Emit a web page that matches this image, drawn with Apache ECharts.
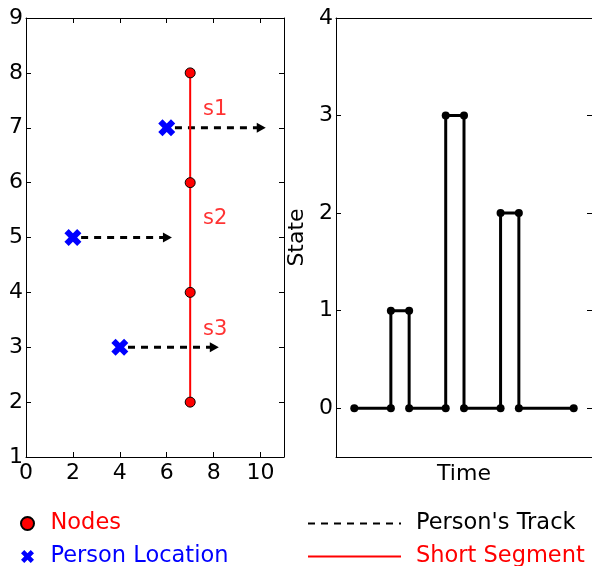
<!DOCTYPE html>
<html>
<head>
<meta charset="utf-8">
<script src="https://cdn.jsdelivr.net/npm/echarts@6/dist/echarts.min.js"></script>
<style>
  html, body { margin: 0; padding: 0; background: #fff; }
  #chart { width: 592px; height: 566px; }
</style>
</head>
<body>
<div id="chart"></div>
<script>
// Left panel: segment nodes along x = 7
const segmentX = 7;
const nodeY = [2, 4, 6, 8];

// Person locations and their tracks (arrows to the right)
const personX = [6, 2, 4];
const personY = [7, 5, 3];
const trackStartX = [6.35, 2.35, 4.35];
const trackEndX = [9.9, 5.9, 7.9];
const arrowHeadX = [10.03, 6.03, 8.03];

// Segment labels
const segLabels = ['s1', 's2', 's3'];
const segLabelX = [7.55, 7.55, 7.55];
const segLabelY = [7.33, 5.35, 3.33];

// Right panel: state over time
const stateTime = [0, 2, 2, 3, 3, 5, 5, 6, 6, 8, 8, 9, 9, 12];
const stateValue = [0, 0, 1, 1, 0, 0, 3, 3, 0, 0, 2, 2, 0, 0];

const FONT = 'DejaVu Sans';
const RED = '#ff0000';
const BLUE = '#0000ff';
// chunky filled X like matplotlib's 'X' marker
const X_MARK = 'path://M0,2.5L2.5,0L5,2.5L7.5,0L10,2.5L7.5,5L10,7.5L7.5,10L5,7.5L2.5,10L0,7.5L2.5,5Z';

const chart = echarts.init(document.getElementById('chart'));

const spine = { show: true, onZero: false, lineStyle: { color: '#000', width: 1 } };
const tickIn = { show: true, inside: true, length: 5, lineStyle: { color: '#000', width: 1 } };
const tickLabel = { color: '#000', fontSize: 22, fontFamily: FONT };

// one series per track so the dashes are not joined
const trackSeries = personX.map((px, i) => ({
    name: "Person's Track",
    type: 'line',
    xAxisIndex: 0,
    yAxisIndex: 0,
    data: [[trackStartX[i], personY[i]], [trackEndX[i], personY[i]]],
    symbol: 'none',
    lineStyle: { color: '#000', width: 3, type: [7, 6] },
    itemStyle: { color: '#000' },
    z: 2
}));

const hiddenSymbol = { opacity: 0 };

const option = {
    animation: false,
    backgroundColor: '#fff',
    textStyle: { fontFamily: FONT },
    grid: [
        { left: 26, top: 18, width: 258, height: 439 },
        { left: 336, top: 18, width: 257, height: 439 }
    ],
    legend: [
        {
            orient: 'vertical',
            left: 20,
            top: 512,
            height: 60,
            padding: 0,
            itemWidth: 36,
            itemHeight: 13,
            itemGap: 10,
            selectedMode: false,
            textStyle: { fontSize: 22.5, fontFamily: FONT },
            data: [
                { name: 'Nodes', textStyle: { color: RED } },
                { name: 'Person Location', textStyle: { color: BLUE } }
            ]
        },
        {
            orient: 'vertical',
            left: 307,
            top: 512,
            height: 60,
            padding: 0,
            itemWidth: 93,
            itemHeight: 13,
            itemGap: 10,
            selectedMode: false,
            textStyle: { fontSize: 22.5, fontFamily: FONT, padding: [0, 0, 0, 10] },
            data: [
                { name: "Person's Track", textStyle: { color: '#000' }, itemStyle: hiddenSymbol },
                { name: 'Short Segment', textStyle: { color: RED }, itemStyle: hiddenSymbol }
            ]
        }
    ],
    xAxis: [
        {
            gridIndex: 0, type: 'value', position: 'bottom',
            min: 0, max: 11, interval: 2,
            axisLine: spine, axisTick: tickIn,
            axisLabel: Object.assign({ margin: 5, showMaxLabel: false }, tickLabel),
            splitLine: { show: false }
        },
        {
            gridIndex: 0, type: 'value', position: 'top',
            min: 0, max: 11, interval: 2,
            axisLine: spine, axisTick: tickIn,
            axisLabel: { show: false },
            splitLine: { show: false }
        },
        {
            gridIndex: 1, type: 'value', position: 'bottom',
            min: -1, max: 13,
            name: 'Time', nameLocation: 'middle', nameGap: 6,
            nameTextStyle: { color: '#000', fontSize: 22, fontFamily: FONT, verticalAlign: 'top' },
            axisLine: spine, axisTick: { show: false },
            axisLabel: { show: false },
            splitLine: { show: false }
        },
        {
            gridIndex: 1, type: 'value', position: 'top',
            min: -1, max: 13,
            axisLine: spine, axisTick: { show: false },
            axisLabel: { show: false },
            splitLine: { show: false }
        }
    ],
    yAxis: [
        {
            gridIndex: 0, type: 'value', position: 'left',
            min: 1, max: 9, interval: 1,
            axisLine: spine, axisTick: tickIn,
            axisLabel: Object.assign({ margin: 3 }, tickLabel),
            splitLine: { show: false }
        },
        {
            gridIndex: 0, type: 'value', position: 'right',
            min: 1, max: 9, interval: 1,
            axisLine: spine, axisTick: tickIn,
            axisLabel: { show: false },
            splitLine: { show: false }
        },
        {
            gridIndex: 1, type: 'value', position: 'left',
            min: -0.5, max: 4,
            name: 'State', nameLocation: 'middle', nameGap: 28,
            nameTextStyle: { color: '#000', fontSize: 22, fontFamily: FONT },
            axisLine: spine, axisTick: tickIn,
            axisLabel: Object.assign({
                margin: 3,
                formatter: v => (Number.isInteger(v) ? String(v) : '')
            }, tickLabel),
            splitLine: { show: false }
        },
        {
            gridIndex: 1, type: 'value', position: 'right',
            min: -0.5, max: 4,
            axisLine: spine, axisTick: tickIn,
            axisLabel: { show: false },
            splitLine: { show: false }
        }
    ],
    series: [
        ...trackSeries,
        {
            name: 'arrowheads',
            type: 'scatter',
            xAxisIndex: 0,
            yAxisIndex: 0,
            data: arrowHeadX.map((x, i) => [x, personY[i]]),
            symbol: 'triangle',
            symbolSize: [10, 9],
            symbolRotate: -90,
            itemStyle: { color: '#000', opacity: 1 },
            z: 2
        },
        {
            name: 'Short Segment',
            type: 'line',
            xAxisIndex: 0,
            yAxisIndex: 0,
            data: [[segmentX, Math.min(...nodeY)], [segmentX, Math.max(...nodeY)]],
            symbol: 'none',
            lineStyle: { color: RED, width: 2 },
            itemStyle: { color: RED },
            z: 3
        },
        {
            name: 'Nodes',
            type: 'scatter',
            xAxisIndex: 0,
            yAxisIndex: 0,
            data: nodeY.map(y => [segmentX, y]),
            symbol: 'circle',
            symbolSize: 10,
            itemStyle: { color: RED, borderColor: '#000', borderWidth: 1, opacity: 1 },
            z: 4
        },
        {
            name: 'Person Location',
            type: 'scatter',
            xAxisIndex: 0,
            yAxisIndex: 0,
            data: personX.map((x, i) => [x, personY[i]]),
            symbol: X_MARK,
            symbolSize: 17,
            itemStyle: { color: BLUE, opacity: 1 },
            z: 5
        },
        {
            name: 'segment labels',
            type: 'scatter',
            xAxisIndex: 0,
            yAxisIndex: 0,
            data: segLabels.map((s, i) => [segLabelX[i], segLabelY[i], s]),
            symbolSize: 0,
            label: {
                show: true,
                position: 'inside',
                align: 'left',
                verticalAlign: 'middle',
                color: RED,
                fontSize: 21,
                fontFamily: FONT,
                formatter: p => p.value[2]
            },
            z: 5
        },
        {
            name: 'State',
            type: 'line',
            xAxisIndex: 2,
            yAxisIndex: 2,
            data: stateTime.map((t, i) => [t, stateValue[i]]),
            symbol: 'circle',
            symbolSize: 8,
            showAllSymbol: true,
            lineStyle: { color: '#000', width: 3 },
            itemStyle: { color: '#000', opacity: 1 }
        }
    ]
};

chart.setOption(option);
</script>
</body>
</html>
